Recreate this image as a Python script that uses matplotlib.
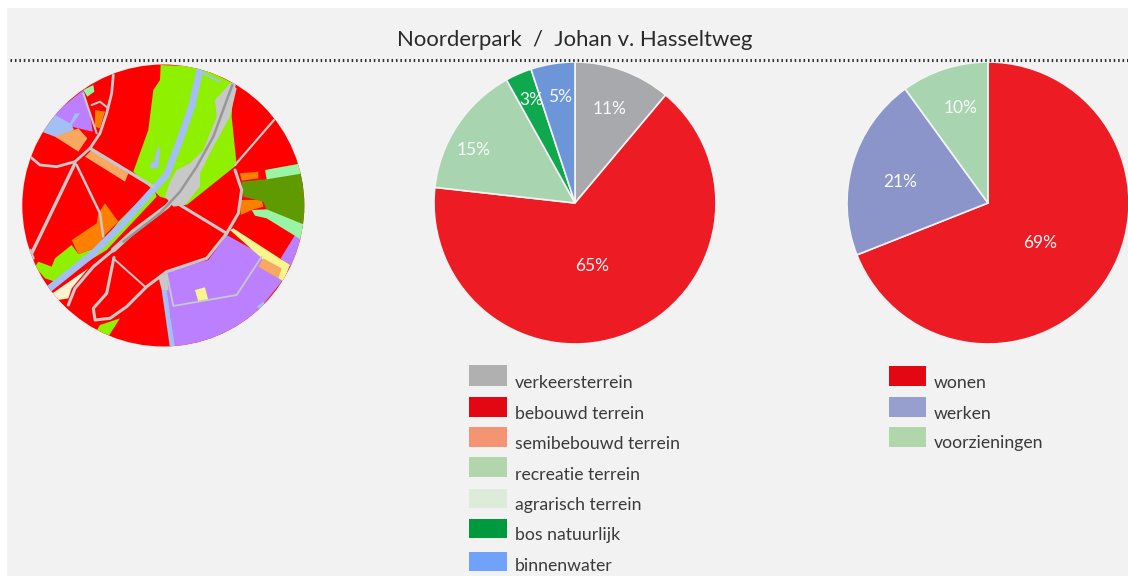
import matplotlib
matplotlib.use("Agg")
import matplotlib.pyplot as plt
from matplotlib.patches import Rectangle, Circle, Polygon
import numpy as np

plt.rcParams['font.family'] = ['Lato', 'DejaVu Sans']

# ---- data ----
title = "Noorderpark  /  Johan v. Hasseltweg"
land_labels = ["verkeersterrein", "bebouwd terrein", "semibebouwd terrein", "recreatie terrein",
               "agrarisch terrein", "bos natuurlijk", "binnenwater"]
land_pie_values = [11, 65, 15, 3, 5]
func_labels = ["wonen", "werken", "voorzieningen"]
func_pie_values = [69, 21, 10]

# ---- styles ----
W, H = 1128, 576
BG = "#f2f2f2"
TXT = "#3a3a3a"
land_pie_colors = ["#a7a9ac", "#ed1c24", "#a8d5b0", "#0fa84f", "#6c96d8"]
func_pie_colors = ["#ed1c24", "#8b95c9", "#a8d5b0"]
land_leg_colors = ["#b0b0b0", "#e30613", "#f39473", "#b2d6ac", "#dcecd8", "#009a3e", "#6fa3fb"]
func_leg_colors = ["#e30613", "#979fcf", "#b2d6ac"]

fig = plt.figure(figsize=(W / 100, H / 100), dpi=100, facecolor="white")
ax = fig.add_axes([0, 0, 1, 1])


def Y(y):
    return H - y


def finish_axes():
    ax.set_xlim(0, W)
    ax.set_ylim(0, H)
    ax.set_aspect("equal")
    ax.axis("off")


# panel
ax.add_patch(Rectangle((7, 0), W - 7, H - 8, fc=BG, ec="none", zorder=0))

# title + dotted rule
ax.text(574.5, Y(40), title, ha="center", va="center", fontsize=15.9, color="#2a2a2a")
ax.plot([10, W], [Y(60), Y(60)], color="#303030", lw=2.2, ls=(0, (0.5, 0.95)), zorder=5)


# ---- pies ----
def draw_pie(values, colors, cx, cy, radius, label_offsets):
    ax.pie(values, colors=colors, startangle=90, counterclock=False,
           center=(cx, Y(cy)), radius=radius, frame=True,
           wedgeprops=dict(edgecolor="#f4f4f4", linewidth=1.2))
    for v, (dx, dy) in zip(values, label_offsets):
        ax.text(cx + dx, Y(cy + dy), f"{v}%",
                ha="center", va="center", color="white", fontsize=12.5, alpha=0.95)


draw_pie(land_pie_values, land_pie_colors, 575, 203, 141,
         [(35, -94), (17, 63), (-101, -53), (-44, -103), (-15, -106)])
draw_pie(func_pie_values, func_pie_colors, 988, 203, 141,
         [(52, 40), (-88, -21), (-27, -95)])

# ---- legends ----
land_box_y = [365, 397, 427, 457, 489, 519, 552]
land_box_h = [21, 20, 20, 20, 19, 19, 19]
land_txt_y = [382, 413, 443, 474, 504, 534, 565]
for lab, col, by, bh, ty in zip(land_labels, land_leg_colors, land_box_y, land_box_h, land_txt_y):
    ax.add_patch(Rectangle((469, Y(by + bh)), 38, bh, fc=col, ec="none"))
    ax.text(515, Y(ty + 1), lab, ha="left", va="center", fontsize=12.7, color=TXT)

func_box_y = [366, 397, 427]
func_txt_y = [382, 413, 442]
for lab, col, by, ty in zip(func_labels, func_leg_colors, func_box_y, func_txt_y):
    ax.add_patch(Rectangle((889, Y(by + 20)), 37, 20, fc=col, ec="none"))
    ax.text(934, Y(ty + 1), lab, ha="left", va="center", fontsize=12.7, color=TXT)

# ---- decorative land-use map (traced illustration, clipped to a circle) ----
clip = Circle((163.3, Y(205.5)), 141, transform=ax.transData)
ax.add_patch(Circle((163.3, Y(205.5)), 141, fc="#ff0000", ec="none", zorder=1))


def P(pts):
    return [(x / 3, Y(50 + y / 3)) for x, y in pts]


GREEN, LAV, ORG, SAND = "#8ff000", "#bb80ff", "#ff8000", "#f8a860"
AQUA, YEL, WATER, ROAD = "#99f5a5", "#f8f58f", "#a3bff5", "#c8c8c8"
map_areas = [
    (GREEN, [(482, 45), (600, 50), (700, 100), (695, 200), (710, 345), (560, 465), (480, 440), (400, 365),
             (445, 240), (460, 120), (480, 90)]),
    (GREEN, [(460, 410), (355, 515), (300, 590), (235, 612), (215, 585), (165, 625), (155, 650), (115, 635),
             (105, 650), (135, 685), (165, 695), (320, 600), (470, 440)]),
    (GREEN, [(300, 825), (360, 805), (325, 860), (285, 850)]),
    (LAV, [(500, 665), (625, 630), (680, 555), (850, 650), (845, 695), (760, 800), (640, 890), (520, 895),
           (510, 790), (490, 720)]),
    (LAV, [(885, 555), (915, 565), (870, 650), (842, 625)]),
    (LAV, [(250, 120), (150, 200), (215, 230), (278, 245), (270, 190)]),
    (WATER, [(165, 195), (125, 245), (170, 262), (222, 240), (215, 225), (240, 190), (225, 190), (210, 220)]),
    (SAND, [(165, 260), (235, 235), (262, 265), (235, 305)]),
    (SAND, [(255, 320), (275, 300), (385, 370), (375, 395)]),
    (ORG, [(215, 570), (290, 520), (295, 490), (315, 460), (355, 515), (310, 560), (300, 590), (235, 612)]),
    (ORG, [(285, 180), (315, 185), (300, 235), (285, 230)]),
    (ORG, [(720, 370), (775, 365), (775, 385), (725, 392)]),
    (ORG, [(720, 450), (785, 450), (790, 470), (755, 480), (722, 495)]),
    ("#5f9a00", [(725, 395), (795, 388), (920, 365), (930, 440), (915, 530), (800, 480), (790, 455), (730, 440)]),
    (AQUA, [(795, 360), (905, 340), (910, 370), (800, 388)]),
    (AQUA, [(755, 480), (800, 478), (915, 525), (905, 570), (800, 505), (765, 497)]),
    (AQUA, [(250, 120), (280, 105), (283, 125), (262, 140)]),
    (YEL, [(690, 540), (700, 535), (870, 645), (850, 695), (830, 680), (780, 620)]),
    (SAND, [(790, 625), (845, 655), (835, 685), (775, 650)]),
    (YEL, [(585, 720), (615, 712), (625, 750), (595, 755)]),
    ("#fff3cf", [(150, 735), (265, 655), (215, 715), (205, 745), (175, 750)]),
    (WATER, [(485, 720), (500, 720), (525, 895), (510, 895)]),
    (ROAD, [(475, 680), (500, 665), (505, 720), (485, 720)]),
    (WATER, [(460, 340), (475, 285), (480, 300), (475, 355), (450, 355), (455, 330)]),
    (WATER, [(770, 770), (790, 755), (795, 765), (780, 780)]),
    (ROAD, [(530, 360), (570, 340), (610, 300), (650, 200), (645, 150), (690, 100), (710, 115), (690, 200),
            (640, 290), (600, 370), (600, 410), (555, 465), (520, 470), (495, 440), (510, 395)]),
]
for col, pts in map_areas:
    ax.add_patch(Polygon(P(pts), fc=col, ec="none", zorder=2, clip_path=clip))

map_lines = [
    (WATER, 5.0, [(600, 60), (575, 170), (540, 270), (500, 375), (450, 430), (360, 530), (280, 610), (140, 722)]),
    (WATER, 1.5, [(600, 65), (660, 95)]),
    (ROAD, 3.6, [(700, 105), (660, 210), (620, 310), (570, 395), (500, 470), (400, 545), (340, 600)]),
    (ROAD, 2.2, [(340, 600), (280, 650), (225, 715), (205, 765)]),
    ("#979797", 1.8, [(697, 105), (640, 260), (590, 350), (540, 425), (480, 490), (370, 575)]),
    (ROAD, 2.0, [(340, 75), (335, 130), (320, 190), (300, 250), (270, 295), (225, 335), (170, 350), (120, 345),
                 (90, 320)]),
    (ROAD, 1.5, [(250, 130), (270, 190), (290, 250)]),
    (ROAD, 1.5, [(275, 165), (300, 155), (325, 175)]),
    (ROAD, 2.4, [(225, 340), (95, 610)]),
    (ROAD, 1.8, [(230, 345), (300, 490), (310, 560)]),
    (ROAD, 2.4, [(270, 295), (460, 410)]),
    (ROAD, 2.2, [(540, 465), (680, 550)]),
    (ROAD, 1.6, [(822, 210), (705, 345)]),
    (ROAD, 2.2, [(705, 360), (725, 420), (715, 490), (680, 550), (620, 625), (500, 665), (440, 710), (380, 770),
                 (330, 805), (285, 810), (280, 775), (320, 730), (342, 622)]),
    (ROAD, 1.4, [(340, 625), (435, 710)]),
    (ROAD, 1.3, [(500, 670), (520, 768), (710, 735), (785, 620)]),
    (ROAD, 2.0, [(100, 625), (90, 600)]),
]
for col, lw, pts in map_lines:
    q = np.array(P(pts))
    ax.plot(q[:, 0], q[:, 1], color=col, lw=lw, solid_capstyle="round", solid_joinstyle="round",
            zorder=3, clip_path=clip)

finish_axes()
fig.savefig("out.png", dpi=100, facecolor="white")
